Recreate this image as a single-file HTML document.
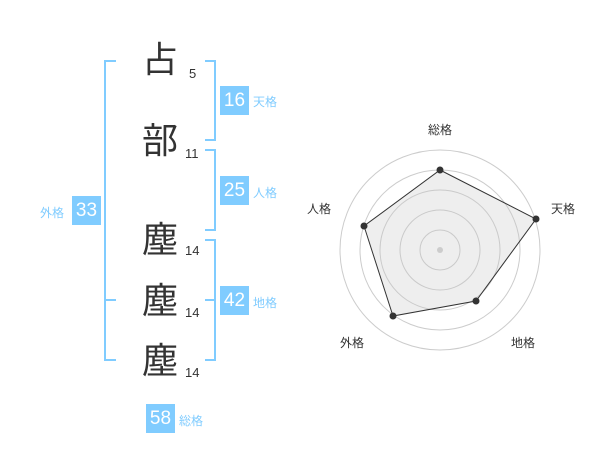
<!DOCTYPE html>
<html><head><meta charset="utf-8"><style>
body{margin:0;width:600px;height:470px;background:#fff;overflow:hidden;position:relative;font-family:"Liberation Sans","Noto Sans CJK JP",sans-serif}
.k{position:absolute;font-size:36px;color:#333;line-height:36px;width:40px;text-align:center;left:140px}
.n{position:absolute;font-size:13px;color:#333;line-height:13px}
.b{position:absolute;background:#80ccff;color:#fff;font-size:19px;width:29px;height:29px;line-height:29px;text-align:center}
.l{position:absolute;font-size:12px;color:#80ccff;line-height:14px}
.ln{position:absolute;background:#80ccff}
</style></head><body>
<div class="k" style="top:42px">占</div>
<div class="k" style="top:123px">部</div>
<div class="k" style="top:222px">塵</div>
<div class="k" style="top:283px">塵</div>
<div class="k" style="top:343px">塵</div>
<div class="n" style="left:189px;top:67px">5</div>
<div class="n" style="left:185px;top:147px">11</div>
<div class="n" style="left:185px;top:244px">14</div>
<div class="n" style="left:185px;top:306px">14</div>
<div class="n" style="left:185px;top:366px">14</div>
<div class="ln" style="left:104px;top:60px;width:2px;height:301px"></div>
<div class="ln" style="left:104px;top:60px;width:12px;height:2px"></div>
<div class="ln" style="left:104px;top:299px;width:12px;height:2px"></div>
<div class="ln" style="left:104px;top:359px;width:12px;height:2px"></div>
<div class="ln" style="left:214px;top:60px;width:2px;height:81px"></div>
<div class="ln" style="left:205px;top:60px;width:11px;height:2px"></div>
<div class="ln" style="left:205px;top:139px;width:11px;height:2px"></div>
<div class="ln" style="left:214px;top:149px;width:2px;height:82px"></div>
<div class="ln" style="left:205px;top:149px;width:11px;height:2px"></div>
<div class="ln" style="left:205px;top:229px;width:11px;height:2px"></div>
<div class="ln" style="left:214px;top:239px;width:2px;height:122px"></div>
<div class="ln" style="left:205px;top:239px;width:11px;height:2px"></div>
<div class="ln" style="left:205px;top:299px;width:11px;height:2px"></div>
<div class="ln" style="left:205px;top:359px;width:11px;height:2px"></div>
<div class="b" style="left:220px;top:86px">16</div><div class="l" style="left:253px;top:95px">天格</div>
<div class="b" style="left:220px;top:176px">25</div><div class="l" style="left:253px;top:186px">人格</div>
<div class="b" style="left:220px;top:286px">42</div><div class="l" style="left:253px;top:296px">地格</div>
<div class="b" style="left:72px;top:196px">33</div><div class="l" style="left:40px;top:206px">外格</div>
<div class="b" style="left:146px;top:404px">58</div><div class="l" style="left:179px;top:414px">総格</div>
<svg style="position:absolute;left:0;top:0" width="600" height="470">
<g fill="none" stroke="#ccc" stroke-width="1">
<circle cx="440" cy="250" r="20"/><circle cx="440" cy="250" r="40"/><circle cx="440" cy="250" r="60"/><circle cx="440" cy="250" r="80"/><circle cx="440" cy="250" r="100"/>
</g>
<polygon points="440,170 536,219 476,301 393,316 364,226" fill="rgba(200,200,200,0.3)" stroke="#333" stroke-width="1"/>
<circle cx="440" cy="250" r="3" fill="#ccc"/>
<g fill="#333"><circle cx="440" cy="170" r="3.5"/><circle cx="536" cy="219" r="3.5"/><circle cx="476" cy="301" r="3.5"/><circle cx="393" cy="316" r="3.5"/><circle cx="364" cy="226" r="3.5"/></g>
<g font-size="12" fill="#333" text-anchor="middle" font-family="Liberation Sans, Noto Sans CJK JP, sans-serif">
<text x="440" y="134">総格</text><text x="563" y="213">天格</text><text x="523" y="347">地格</text><text x="352" y="347">外格</text><text x="319" y="213">人格</text>
</g>
</svg>
</body></html>
